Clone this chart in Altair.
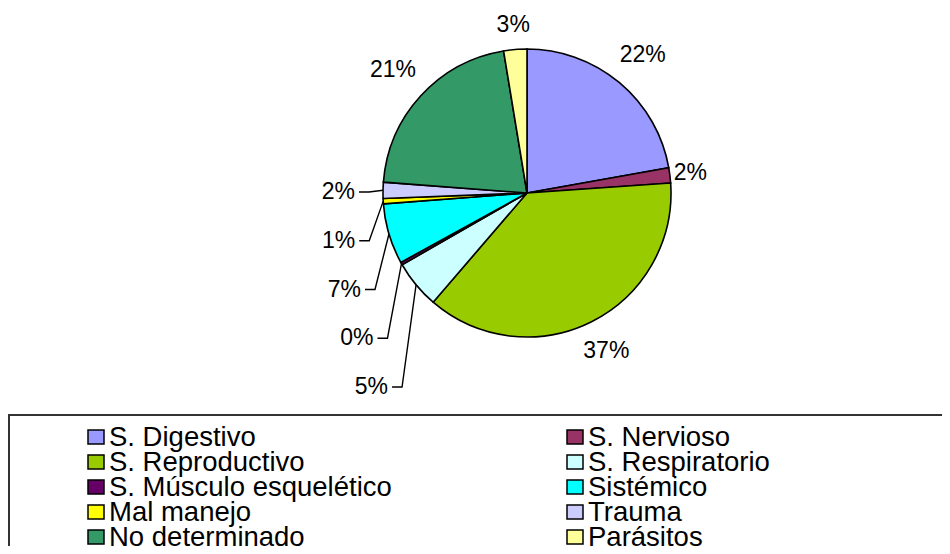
import altair as alt
import numpy as np
import pandas as pd

# ---------------- data ----------------
categories = ["S. Digestivo", "S. Nervioso", "S. Reproductivo", "S. Respiratorio",
              "S. Músculo esquelético", "Sistémico", "Mal manejo", "Trauma",
              "No determinado", "Parásitos"]
values = [22.2, 1.7, 37.4, 5.4, 0.3, 6.8, 0.6, 1.8, 21.2, 2.6]
colors = ["#9999FF", "#993366", "#99CC00", "#CCFFFF", "#660066",
          "#00FFFF", "#FFFF00", "#CCCCFF", "#339966", "#FFFF99"]

# ---------------- layout (chart pixels) ----------------
W, H = 934, 538
CX, CY, R = 519, 185, 144
FONT = "Liberation Sans"
LABEL_SIZE = 23
LEGEND_SIZE = 27.5
LABEL_GAP = 15
GAP_OVERRIDE = {"S. Nervioso": 3}
# small slices whose labels are stacked on the left with leader lines (top to bottom)
LEADER = ["Trauma", "Mal manejo", "Sistémico", "S. Músculo esquelético", "S. Respiratorio"]
LEADER_STEP = 48.75
LEADER_DX = 28

tot = float(sum(values))
cum = np.cumsum([0.0] + values)
mid = (cum[:-1] + cum[1:]) / 2.0 / tot * 2 * np.pi

df = pd.DataFrame({"cat": categories, "value": values, "idx": range(len(values))})

# labels
lab_rows, line_rows = [], []
for i, (c, v, a) in enumerate(zip(categories, values, mid)):
    txt = f"{round(v)}%"
    if c in LEADER:
        k = LEADER.index(c)
        ex, ey = CX + R * np.sin(a), CY - R * np.cos(a)
        ly = CY - 1 + k * LEADER_STEP
        lx = ex - LEADER_DX
        lab_rows.append({"cat": c, "txt": txt, "x": lx, "y": ly, "align": "right"})
        for p, (px, py) in enumerate([(lx + 4, ly), (lx + 14, ly), (ex, ey)]):
            line_rows.append({"cat": c, "p": p, "x": px, "y": py})
    else:
        w = LABEL_SIZE * (0.556 * (len(txt) - 1) + 0.889)
        h = LABEL_SIZE * 0.74
        ext = (w / 2) * abs(np.sin(a)) + (h / 2) * abs(np.cos(a))
        r = R + GAP_OVERRIDE.get(c, LABEL_GAP) + ext
        lab_rows.append({"cat": c, "txt": txt, "x": CX + r * np.sin(a),
                         "y": CY - r * np.cos(a), "align": "center"})
labs = pd.DataFrame(lab_rows)
lines = pd.DataFrame(line_rows)

# legend layout
LEG_X0, LEG_COL_W, LEG_Y0, LEG_ROW_H = 80, 479, 429, 25
SW_W, SW_H = 16, 14
leg_rows = []
for i, (c, col) in enumerate(zip(categories, colors)):
    cx = LEG_X0 + (i % 2) * LEG_COL_W
    cy = LEG_Y0 + (i // 2) * LEG_ROW_H
    leg_rows.append({"cat": c, "x": cx, "x2": cx + SW_W, "y": cy - SW_H / 2,
                     "y2": cy + SW_H / 2, "tx": cx + SW_W + 5, "ty": cy + 9})
leg = pd.DataFrame(leg_rows)
box = pd.DataFrame({"x": [1], "x2": [W + 30], "y": [407], "y2": [H + 30]})

color_scale = alt.Scale(domain=categories, range=colors)

pie = alt.Chart(df).mark_arc(outerRadius=R, stroke="black", strokeWidth=1.6).encode(
    theta=alt.Theta("value:Q", stack=True),
    order=alt.Order("idx:Q"),
    color=alt.Color("cat:N", scale=color_scale, legend=None),
    x=alt.value(CX),
    y=alt.value(CY),
)

lead = alt.Chart(lines).mark_line(color="black", strokeWidth=1.4).encode(
    x=alt.X("x:Q", scale=None, axis=None),
    y=alt.Y("y:Q", scale=None, axis=None),
    detail="cat:N",
    order="p:Q",
)

lab_c = alt.Chart(labs[labs["align"] == "center"]).mark_text(
    font=FONT, fontSize=LABEL_SIZE, color="black", align="center", baseline="middle"
).encode(x=alt.X("x:Q", scale=None, axis=None), y=alt.Y("y:Q", scale=None, axis=None), text="txt:N")

lab_r = alt.Chart(labs[labs["align"] == "right"]).mark_text(
    font=FONT, fontSize=LABEL_SIZE, color="black", align="right", baseline="middle"
).encode(x=alt.X("x:Q", scale=None, axis=None), y=alt.Y("y:Q", scale=None, axis=None), text="txt:N")

box_l = alt.Chart(box).mark_rect(filled=False, stroke="#333333", strokeWidth=2).encode(
    x=alt.X("x:Q", scale=None, axis=None), x2="x2:Q",
    y=alt.Y("y:Q", scale=None, axis=None), y2="y2:Q",
)

sw = alt.Chart(leg).mark_rect(stroke="black", strokeWidth=1.5).encode(
    x=alt.X("x:Q", scale=None, axis=None), x2="x2:Q",
    y=alt.Y("y:Q", scale=None, axis=None), y2="y2:Q",
    color=alt.Color("cat:N", scale=color_scale, legend=None),
)

leg_t = alt.Chart(leg).mark_text(
    font=FONT, fontSize=LEGEND_SIZE, color="black", align="left", baseline="alphabetic"
).encode(x=alt.X("tx:Q", scale=None, axis=None), y=alt.Y("ty:Q", scale=None, axis=None), text="cat:N")

chart = alt.layer(pie, lead, lab_c, lab_r, box_l, sw, leg_t).properties(
    width=W, height=H, padding=0, autosize="none", background="white"
).configure_view(strokeWidth=0)

chart.save("out.html", embed_options={"renderer": "svg", "actions": False})
